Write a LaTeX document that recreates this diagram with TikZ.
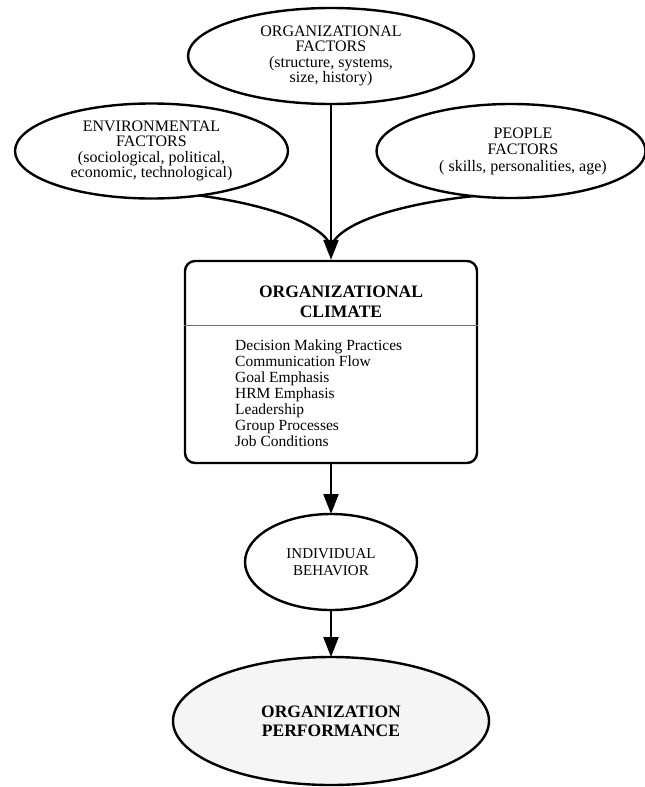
\documentclass[tikz,border=0pt]{standalone}
\usepackage{fontspec}
\setmainfont{Liberation Serif}
\usetikzlibrary{shapes.geometric,arrows.meta}
\begin{document}
\begin{tikzpicture}[x=1pt,y=-1pt,
  ell/.style={ellipse,draw,line width=2.4pt,inner sep=0pt,outer sep=0pt,align=center},
  lbl/.style={align=center,inner sep=0pt,font=\fontsize{16}{15.5}\selectfont},
  arr/.style={line width=2.4pt,-{Triangle[length=20pt,width=15pt]}},
  feed/.style={line width=2.4pt}]
\useasboundingbox (0,0) rectangle (645,787);
% factor ellipses
\node[ell,minimum width=286pt,minimum height=96pt,font=\fontsize{16}{15.5}\selectfont] (of) at (331,56)
  {ORGANIZATIONAL\\FACTORS\\(structure, systems,\\size, history)};
\node[ell,minimum width=273pt,minimum height=95pt,font=\fontsize{16}{15.5}\selectfont] (ef) at (151.5,151)
  {ENVIRONMENTAL\\FACTORS\\(sociological, political,\\economic, technological)};
\node[ell,minimum width=269pt,minimum height=94pt] (pf) at (511,151) {};
\node[lbl,font=\fontsize{16}{16.5}\selectfont] (pft) at (523,151)
  {PEOPLE\\FACTORS\\( skills, personalities, age)};
% climate box
\node[draw,line width=2.4pt,rounded corners=10pt,minimum width=292pt,minimum height=202pt,inner sep=0pt] (cl) at (331,362) {};
\node[inner sep=0pt,align=center,font=\fontsize{17.5}{20}\selectfont\bfseries] (clt) at (341,302)
  {ORGANIZATIONAL\\CLIMATE};
\coordinate (sep) at (0,325);
\draw[line width=1pt,black!55] (cl.west |- sep) -- (cl.east |- sep);
\node[anchor=west,align=left,inner sep=0pt,font=\fontsize{15.5}{16}\selectfont] (cll) at (235,393)
  {Decision Making Practices\\Communication Flow\\Goal Emphasis\\HRM Emphasis\\Leadership\\Group Processes\\Job Conditions};
% outcome ellipses
\node[ell,minimum width=172pt,minimum height=96pt,font=\fontsize{15}{17}\selectfont] (ib) at (331,562)
  {INDIVIDUAL\\BEHAVIOR};
\node[ell,fill=black!4,minimum width=316pt,minimum height=128pt,font=\fontsize{17.5}{19}\selectfont\bfseries] (op) at (331,721)
  {ORGANIZATION\\PERFORMANCE};
% connectors
\coordinate (j) at (331,247);
\draw[feed] (ef.-43) .. controls (270,205) and (325,225) .. (j);
\draw[feed] (pf.-130) .. controls (392,205) and (337,225) .. (j);
\draw[arr] (of) -- (cl);
\draw[arr] (cl) -- (ib);
\draw[arr] (ib) -- (op);
\end{tikzpicture}
\end{document}
